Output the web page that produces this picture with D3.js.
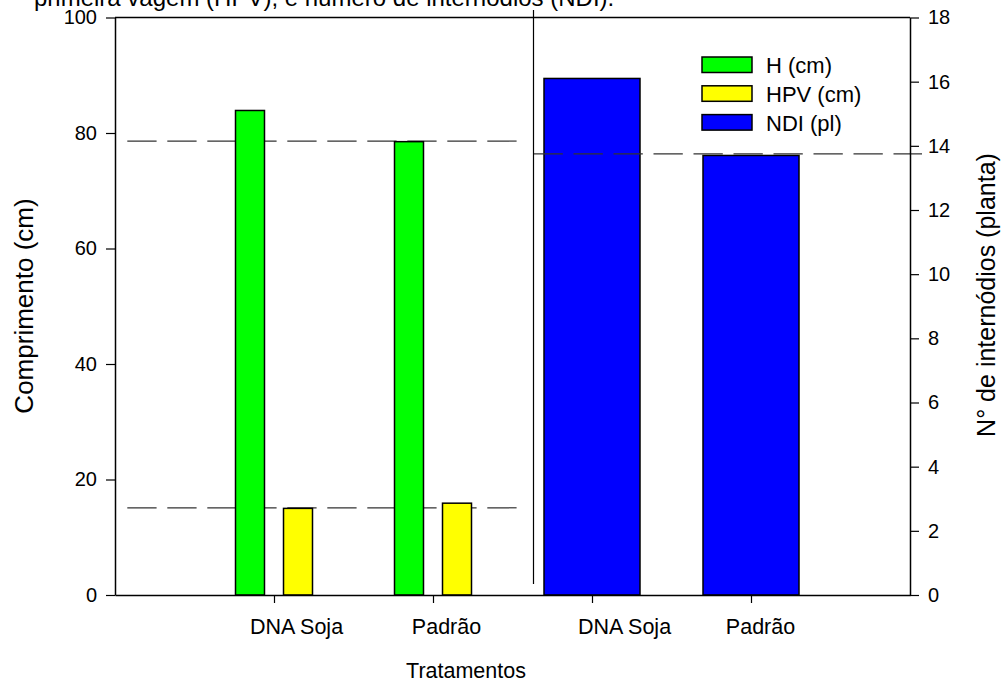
<!DOCTYPE html>
<html>
<head>
<meta charset="utf-8">
<script src="https://cdn.jsdelivr.net/npm/d3@7"></script>
<style>
  html, body { margin: 0; padding: 0; background: #fff; overflow: hidden; }
  svg { display: block; font-family: "Liberation Sans", Arial, sans-serif; }
</style>
</head>
<body>
<svg id="chart" width="1005" height="683"></svg>
<script>
// ---- data ----
const categories = ["DNA Soja", "Padrão", "DNA Soja", "Padrão"];
const leftCategories = [0, 1];          // indices of categories holding H / HPV
const rightCategories = [2, 3];         // indices of categories holding NDI
const hValues = [83.9, 78.5];           // H (cm)
const hpvValues = [15.0, 15.9];         // HPV (cm)
const ndiValues = [16.1, 13.7];         // NDI (pl)
const hRef = [78.6];                    // dashed reference, left axis
const hpvRef = [15.1];                  // dashed reference, left axis
const ndiRef = [13.75];                 // dashed reference, right axis
const leftTicks = [0, 20, 40, 60, 80, 100];
const rightTicks = [0, 2, 4, 6, 8, 10, 12, 14, 16, 18];
const seriesNames = ["H (cm)", "HPV (cm)", "NDI (pl)"];
const seriesColors = ["#00ff00", "#ffff00", "#0000ff"];
const titleText = "primeira vagem (HPV), e número de internódios (NDI).";

// ---- layout ----
const svg = d3.select("#chart");
const L = 115, R = 910, T = 17.5, B = 595;

const x = d3.scaleLinear().domain([0, categories.length + 1]).range([L, R]);
const yL = d3.scaleLinear().domain([0, 100]).range([B, T]);
const yR = d3.scaleLinear().domain([0, 18]).range([B, T]);

// partial caption at top
svg.append("text").attr("x", 34).attr("y", 6)
  .attr("font-size", 24).attr("fill", "#000").text(titleText);

// sub-band for H/HPV pair
const pair = d3.scaleBand().domain([0, 1]).range([-38.5, 38.5]).paddingInner(0.396);
const blueW = 96;

// dashed reference lines (behind bars)
const dash = "29.3,10.7";
svg.append("line").attr("x1", 127.3).attr("x2", 516.6)
  .attr("y1", yL(hRef[0])).attr("y2", yL(hRef[0]))
  .attr("stroke", "#333").attr("stroke-width", 1.2).attr("stroke-dasharray", dash);
svg.append("line").attr("x1", 127.3).attr("x2", 516.6)
  .attr("y1", yL(hpvRef[0])).attr("y2", yL(hpvRef[0]))
  .attr("stroke", "#333").attr("stroke-width", 1.2).attr("stroke-dasharray", dash);

// bars
const bars = svg.append("g").attr("stroke", "#000").attr("stroke-width", 1.5);
bars.selectAll("rect.h").data(hValues).join("rect")
  .attr("x", (d, i) => x(leftCategories[i] + 1) + pair(0))
  .attr("width", pair.bandwidth())
  .attr("y", d => yL(d)).attr("height", d => yL(0) - yL(d))
  .attr("fill", seriesColors[0]);
bars.selectAll("rect.hpv").data(hpvValues).join("rect")
  .attr("x", (d, i) => x(leftCategories[i] + 1) + pair(1))
  .attr("width", pair.bandwidth())
  .attr("y", d => yL(d)).attr("height", d => yL(0) - yL(d))
  .attr("fill", seriesColors[1]);
bars.selectAll("rect.ndi").data(ndiValues).join("rect")
  .attr("x", (d, i) => x(rightCategories[i] + 1) - blueW / 2)
  .attr("width", blueW)
  .attr("y", d => yR(d)).attr("height", d => yR(0) - yR(d))
  .attr("fill", seriesColors[2]);

// dashed line on the right
svg.append("line").attr("x1", 533.5).attr("x2", 922)
  .attr("y1", yR(ndiRef[0])).attr("y2", yR(ndiRef[0]))
  .attr("stroke", "#333").attr("stroke-width", 1.2).attr("stroke-dasharray", dash);

// vertical divider
svg.append("line").attr("x1", 533.5).attr("x2", 533.5).attr("y1", 10).attr("y2", 584)
  .attr("stroke", "#000").attr("stroke-width", 1.2);

// frame top
svg.append("line").attr("x1", L).attr("x2", R).attr("y1", T).attr("y2", T)
  .attr("stroke", "#000").attr("stroke-width", 1.5);

// axes
const axL = svg.append("g").attr("transform", `translate(${L},0)`)
  .call(d3.axisLeft(yL).tickValues(leftTicks).tickSize(9).tickPadding(9).tickSizeOuter(0));
const axR = svg.append("g").attr("transform", `translate(${R},0)`)
  .call(d3.axisRight(yR).tickValues(rightTicks).tickSize(9).tickPadding(9).tickSizeOuter(0));
const axB = svg.append("g").attr("transform", `translate(0,${B})`)
  .call(d3.axisBottom(x).tickValues(d3.range(1, categories.length + 1))
    .tickFormat(d => categories[d - 1]).tickSize(8).tickPadding(16).tickSizeOuter(0));

[axL, axR, axB].forEach(a => {
  a.select(".domain").attr("stroke", "#000").attr("stroke-width", 1.5);
  a.selectAll(".tick line").attr("stroke", "#000").attr("stroke-width", 1.2);
  a.selectAll("text").attr("fill", "#000").attr("font-family", "Liberation Sans, Arial, sans-serif");
});
axL.selectAll("text").attr("font-size", 20);
axR.selectAll("text").attr("font-size", 20).attr("text-anchor", "start");
const labelShift = [22, 13, 32, 9];
axB.selectAll("text").attr("font-size", 21.5).attr("dx", (d, i) => labelShift[i]);

// axis titles
svg.append("text").attr("transform", "translate(33,306) rotate(-90)")
  .attr("text-anchor", "middle").attr("font-size", 26).text("Comprimento (cm)");
svg.append("text").attr("transform", "translate(995,295) rotate(-90)")
  .attr("text-anchor", "middle").attr("font-size", 25).text("N° de internódios (planta)");
svg.append("text").attr("x", 466).attr("y", 678)
  .attr("text-anchor", "middle").attr("font-size", 21.5).text("Tratamentos");

// legend
const lg = svg.append("g").attr("transform", "translate(702,57)");
seriesNames.forEach((n, i) => {
  lg.append("rect").attr("x", 0).attr("y", i * 28.8).attr("width", 50).attr("height", 15.5)
    .attr("fill", seriesColors[i]).attr("stroke", "#000").attr("stroke-width", 1.5);
  lg.append("text").attr("x", 64).attr("y", i * 28.8 + 16).attr("font-size", 22).text(n);
});
</script>
</body>
</html>
